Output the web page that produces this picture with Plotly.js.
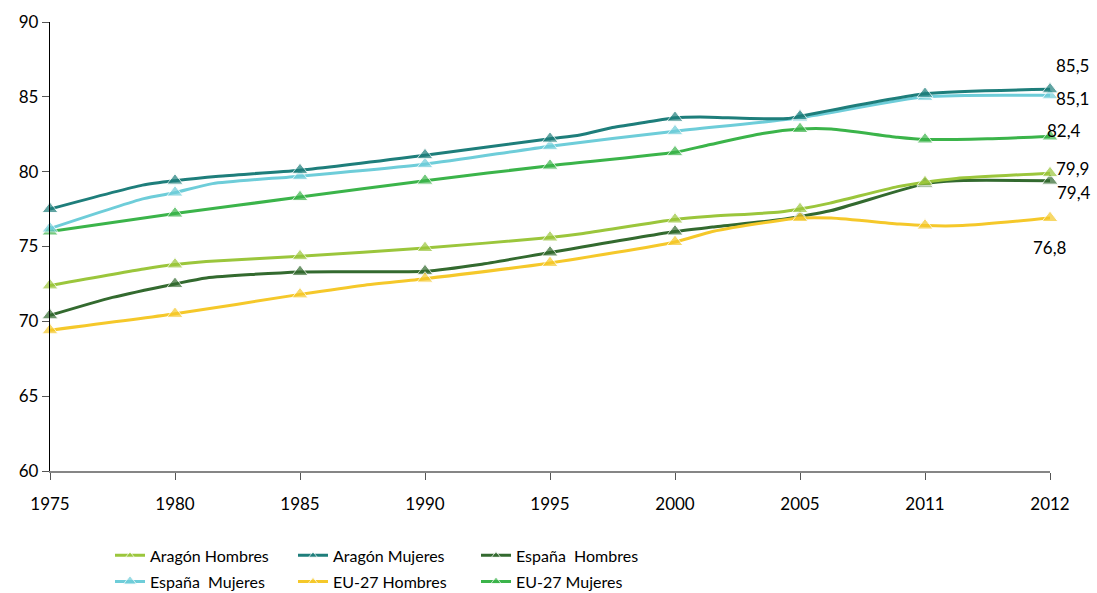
<!DOCTYPE html>
<html>
<head>
<meta charset="utf-8">
<script src="https://cdn.plot.ly/plotly-3.0.1.min.js"></script>
<style>html,body{margin:0;padding:0;background:#fff;}#chart{width:1097px;height:593px;}</style>
</head>
<body>
<div id="chart"></div>
<script>
// Category tick labels (x axis)
const years = ["1975","1980","1985","1990","1995","2000","2005","2011","2012"];

// Series: x = position along the category axis (category index, fractional = intermediate readings), y = life expectancy
const aragonHombresX = [0, 0.75, 1, 1.25, 2, 3, 4, 4.25, 5, 5.26, 5.84, 6, 6.24, 6.78, 7, 7.25, 8];
const aragonHombresY = [72.4, 73.5, 73.8, 74.0, 74.35, 74.9, 75.6, 75.85, 76.8, 77.0, 77.3, 77.5, 77.9, 79.0, 79.3, 79.55, 79.9];

const aragonMujeresX = [0, 0.74, 1, 1.35, 2, 3, 4, 4.24, 4.5, 4.8, 5, 5.2, 5.6, 5.9, 6, 7, 8];
const aragonMujeresY = [77.5, 79.1, 79.4, 79.7, 80.1, 81.1, 82.2, 82.45, 82.95, 83.35, 83.6, 83.65, 83.55, 83.55, 83.7, 85.2, 85.5];

const espanaHombresX = [0, 0.5, 1, 1.25, 2, 3, 3.44, 4, 5, 5.3, 5.85, 6, 6.25, 7, 7.25, 8];
const espanaHombresY = [70.4, 71.6, 72.5, 72.9, 73.3, 73.35, 73.8, 74.6, 76.0, 76.3, 76.8, 77.0, 77.4, 79.2, 79.4, 79.4];

const espanaMujeresX = [0, 0.75, 1, 1.3, 2, 3, 4, 5, 6, 7, 8];
const espanaMujeresY = [76.2, 78.2, 78.6, 79.2, 79.7, 80.5, 81.7, 82.7, 83.6, 85.0, 85.1];

const eu27HombresX = [0, 1, 2, 2.5, 3, 4, 5, 5.3, 5.85, 6, 6.25, 6.8, 7, 7.3, 8];
const eu27HombresY = [69.4, 70.5, 71.8, 72.4, 72.85, 73.9, 75.3, 76.0, 76.75, 76.9, 76.9, 76.5, 76.4, 76.4, 76.9];

const eu27MujeresX = [0, 1, 2, 3, 4, 5, 5.25, 5.7, 6, 6.25, 6.78, 7, 7.5, 8];
const eu27MujeresY = [76.0, 77.2, 78.3, 79.4, 80.4, 81.3, 81.75, 82.55, 82.85, 82.85, 82.3, 82.15, 82.2, 82.35];

const seriesNames = ["Aragón Hombres", "Aragón Mujeres", "España\u00a0 Hombres", "España\u00a0 Mujeres", "EU-27 Hombres", "EU-27 Mujeres"];
const seriesColors = ["#9bc63c", "#1e7e7b", "#336a2f", "#6ecdd9", "#f5c82a", "#3bb44a"];

// 2012 value labels
const endLabels = ["79,9", "85,5", "79,4", "85,1", "76,8", "82,4"];
const endValues = [79.9, 85.5, 79.4, 85.1, 76.8, 82.4];
const endShift = [[22, 5], [22, 24], [24, -12], [22, -3], [0, -28], [14, 5]];

const xs = [aragonHombresX, aragonMujeresX, espanaHombresX, espanaMujeresX, eu27HombresX, eu27MujeresX];
const ys = [aragonHombresY, aragonMujeresY, espanaHombresY, espanaMujeresY, eu27HombresY, eu27MujeresY];

const FONT = "Lato, 'Open Sans', sans-serif";

const drawOrder = [2, 4, 0, 5, 3, 1];
const traces = [];
for (let i = 0; i < 6; i++) {
  traces.push({
    type: "scatter",
    mode: "lines+markers",
    name: seriesNames[i],
    x: xs[i],
    y: ys[i],
    line: {color: seriesColors[i], width: 3, shape: "spline", smoothing: 0.6},
    marker: {symbol: "triangle-up", size: xs[i].map(v => Number.isInteger(v) ? 14 : 0), color: seriesColors[i]},
    cliponaxis: false,
    legend: i < 3 ? "legend" : "legend2",
    legendrank: i
  });
}

const annotations = endLabels.map((t, i) => ({
  x: 8, y: endValues[i], xref: "x", yref: "y", text: t, showarrow: false,
  xshift: endShift[i][0], yshift: endShift[i][1],
  font: {family: FONT, size: 17, color: "#000"}
}));

const legendCommon = {
  orientation: "h", xanchor: "left", yanchor: "top", yref: "container",
  entrywidth: 138, entrywidthmode: "pixels",
  font: {family: FONT, size: 16, color: "#000"},
  bgcolor: "rgba(0,0,0,0)", itemwidth: 30, tracegroupgap: 0
};

const layout = {
  width: 1097, height: 593,
  margin: {l: 50, r: 47, t: 22, b: 122},
  paper_bgcolor: "#fff", plot_bgcolor: "#fff",
  showlegend: true,
  font: {family: FONT, size: 16, color: "#000"},
  xaxis: {
    range: [0, 8], tickmode: "array", tickvals: years.map((_, i) => i), ticktext: years,
    showgrid: false, zeroline: false, showline: true, linecolor: "#868686", linewidth: 1.5,
    ticks: "outside", ticklen: 7, tickcolor: "#555", ticklabelstandoff: 10,
    tickfont: {family: FONT, size: 17, color: "#000"}, fixedrange: true
  },
  yaxis: {
    range: [60, 90], tickmode: "linear", tick0: 60, dtick: 5,
    showgrid: false, zeroline: false, showline: true, linecolor: "#000", linewidth: 1.2,
    ticks: "outside", ticklen: 7, tickcolor: "#555",
    tickfont: {family: FONT, size: 17, color: "#000"}, fixedrange: true
  },
  legend: Object.assign({x: 0.06, y: 0.092}, legendCommon),
  legend2: Object.assign({x: 0.06, y: 0.048}, legendCommon),
  annotations: annotations
};

Plotly.newPlot("chart", drawOrder.map(i => traces[i]), layout, {displayModeBar: false, staticPlot: true});
</script>
</body>
</html>
